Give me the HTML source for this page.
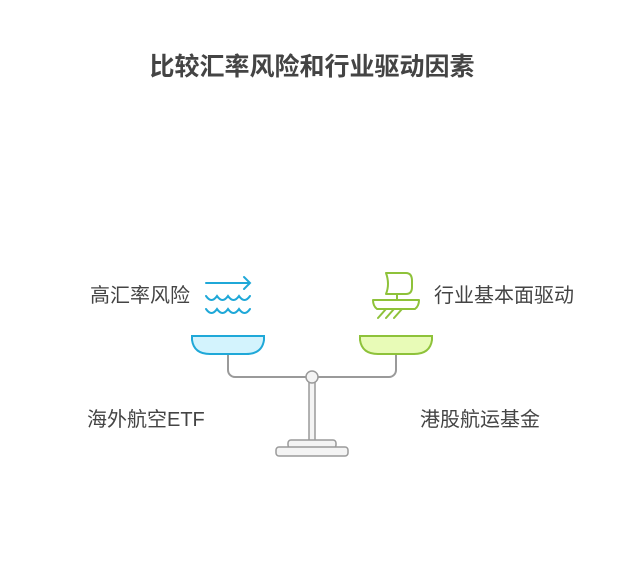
<!DOCTYPE html>
<html><head><meta charset="utf-8"><style>
body{margin:0;background:#fff;width:624px;height:576px;overflow:hidden;font-family:"Liberation Sans","Noto Sans CJK SC",sans-serif}
.t{position:absolute;color:#444;font-size:20px;line-height:24px;white-space:nowrap}
</style></head><body>
<div class="t" style="left:0;width:624px;top:53px;line-height:28px;text-align:center;font-size:25px;font-weight:bold;color:#444">比较汇率风险和行业驱动因素</div>
<div class="t" style="left:90px;top:284px">高汇率风险</div>
<div class="t" style="left:434px;top:284px">行业基本面驱动</div>
<div class="t" style="left:87px;top:408px">海外航空ETF</div>
<div class="t" style="left:420px;top:408px">港股航运基金</div>
<svg width="624" height="576" style="position:absolute;left:0;top:0">
<g fill="none" stroke="#9a9a9a" stroke-width="2">
<path d="M228 354 V370 a7 7 0 0 0 7 7 H389 a7 7 0 0 0 7 -7 V354"/>
</g>
<rect x="309" y="381" width="6" height="60" fill="#f4f4f4" stroke="#9a9a9a" stroke-width="1.5"/>
<circle cx="312" cy="377" r="6" fill="#f4f4f4" stroke="#9a9a9a" stroke-width="1.5"/>
<rect x="288" y="440" width="48" height="8" rx="3" fill="#f4f4f4" stroke="#9a9a9a" stroke-width="1.5"/>
<rect x="276" y="447" width="72" height="9" rx="3" fill="#f4f4f4" stroke="#9a9a9a" stroke-width="1.5"/>
<path d="M192 336 H264 V340 Q262 354 246 354 H210 Q194 354 192 340 Z" fill="#d3f3fd" stroke="#1fa8d8" stroke-width="2"/>
<path d="M360 336 H432 V340 Q430 354 414 354 H378 Q362 354 360 340 Z" fill="#e8fbb7" stroke="#8ec23a" stroke-width="2"/>
<g fill="none" stroke="#1fa8d8" stroke-width="2" stroke-linecap="round">
<path d="M206 283 H250 M244 277 L250 283 L244 289"/>
<path d="M206 296 q5.5 8 11 0 q5.5 8 11 0 q5.5 8 11 0 q5.5 8 11 0"/>
<path d="M206 309 q5.5 8 11 0 q5.5 8 11 0 q5.5 8 11 0 q5.5 8 11 0"/>
</g>
<g fill="none" stroke="#8ec23a" stroke-width="2" stroke-linecap="round" stroke-linejoin="round">
<path d="M386 273 H406 q6 0 6 8 v6 q0 7 -6 7 H386 q4 -10 0 -21 Z"/>
<path d="M397 294 V300"/>
<path d="M373 300 H419 q0 6 -4 9 H377 q-4 -3 -4 -9 Z"/>
<path d="M378 318 L386 309 M386 318 L394 309 M394 318 L402 309"/>
</g>
</svg>
</body></html>
